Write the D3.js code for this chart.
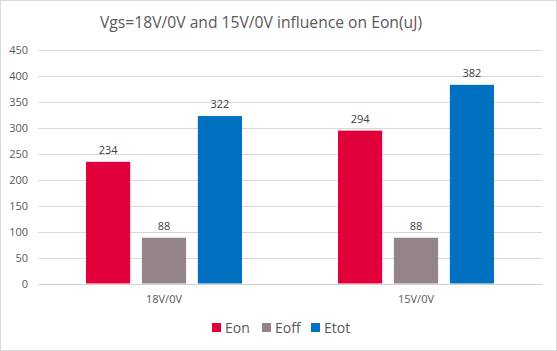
<!DOCTYPE html>
<html><head><meta charset="utf-8">
<script src="https://cdn.jsdelivr.net/npm/d3@7"></script>
<style>body{margin:0;background:#fff}svg{display:block}</style>
</head><body>
<svg id="c" width="557" height="351"></svg>
<script>
const categories = ["18V/0V", "15V/0V"];
const seriesNames = ["Eon", "Eoff", "Etot"];
const eon = [234, 294];
const eoff = [88, 88];
const etot = [322, 382];
const yTicks = [0, 50, 100, 150, 200, 250, 300, 350, 400, 450];
const colors = ["#E2003B", "#938587", "#0070C0"];
const title = "Vgs=18V/0V and 15V/0V influence on Eon(uJ)";

const series = [eon, eoff, etot];
const svg = d3.select("#c");
const font = "'Open Sans', sans-serif";
const txt = "#595959";

svg.append("rect").attr("x",0.5).attr("y",0.5).attr("width",556).attr("height",350)
  .attr("fill","#fff").attr("stroke","#d9d9d9");

const x0 = d3.scaleBand().domain(categories).range([38, 542]).paddingInner(0).paddingOuter(0);
const x1 = d3.scaleBand().domain(seriesNames).range([48, 204]).paddingInner(0.21).paddingOuter(0);
const y = d3.scaleLinear().domain([0, 450]).range([283.5, 49.5]);

const yAxis = d3.axisLeft(y).tickValues(yTicks).tickSize(0).tickPadding(0);
const gy = svg.append("g").attr("transform","translate(28,0)").call(yAxis);
gy.select(".domain").remove();
gy.selectAll("text").attr("font-family",font).attr("font-size",11).attr("fill",txt);

svg.append("g").selectAll("line").data(yTicks).join("line")
  .attr("x1",38).attr("x2",542).attr("y1",d=>Math.round(y(d))+0.5).attr("y2",d=>Math.round(y(d))+0.5)
  .attr("stroke",d=>d===0?"#d0d0d0":"#d9d9d9").attr("stroke-width",1);

const groups = svg.append("g").selectAll("g").data(categories).join("g")
  .attr("transform",d=>`translate(${x0(d)},0)`);
groups.each(function(cat, ci){
  const g = d3.select(this);
  seriesNames.forEach((s, si)=>{
    const v = series[si][ci];
    g.append("rect").attr("x",x1(s)).attr("width",x1.bandwidth())
      .attr("y",y(v)).attr("height",y(0)-y(v)).attr("fill",colors[si]);
    g.append("text").attr("x",x1(s)+x1.bandwidth()/2).attr("y",y(v)-8)
      .attr("text-anchor","middle").attr("font-family",font).attr("font-size",11)
      .attr("fill","#404040").text(v);
  });
});

const xAxis = d3.axisBottom(x0).tickSize(0).tickPadding(0);
const gx = svg.append("g").attr("transform","translate(0,303)").call(xAxis);
gx.select(".domain").remove();
gx.selectAll("text").attr("font-family",font).attr("font-size",11).attr("fill",txt).attr("dy",0);

svg.append("text").attr("x",261).attr("y",28).attr("text-anchor","middle")
  .attr("font-family",font).attr("font-size",15.5).attr("fill",txt)
  .attr("textLength",322).attr("lengthAdjust","spacingAndGlyphs").text(title);

const legX = [212, 262, 311];
const leg = svg.append("g").selectAll("g").data(seriesNames).join("g")
  .attr("transform",(d,i)=>`translate(${legX[i]},323)`);
leg.append("rect").attr("width",9).attr("height",9).attr("fill",(d,i)=>colors[i]);
leg.append("text").attr("x",13).attr("y",10).attr("font-family",font).attr("font-size",14)
  .attr("fill",txt).text(d=>d);
</script>
</body></html>
